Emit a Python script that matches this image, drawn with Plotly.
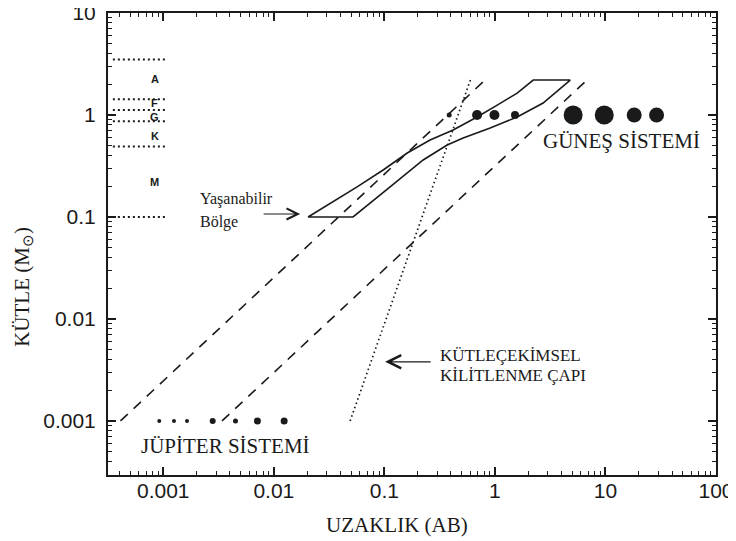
import numpy as np
import plotly.graph_objects as go

# ---------------- data ----------------
# Jupiter system (distance AU, mass in solar masses)
jup_dist = [0.00092, 0.00125, 0.00164, 0.0028, 0.0045, 0.0071, 0.0124]
jup_mass = [0.001, 0.001, 0.001, 0.001, 0.001, 0.001, 0.001]

# Solar system planets
sol_dist = [0.386, 0.69, 0.99, 1.52, 5.1, 9.75, 18.2, 29.0]
sol_mass = [1, 1, 1, 1, 1, 1, 1, 1]

# Habitable zone outline (closed polygon)
hz_dist = [0.0204, 0.0521, 0.1127, 0.2244, 0.370, 0.516, 0.906, 1.59, 2.73, 4.80,
           2.22, 1.59, 1.05, 0.69, 0.419, 0.259, 0.161, 0.0975, 0.0567, 0.0323, 0.0204]
hz_mass = [0.1, 0.1, 0.197, 0.362, 0.508, 0.596, 0.746, 0.955, 1.31, 2.20,
           2.20, 1.64, 1.25, 0.955, 0.713, 0.569, 0.424, 0.289, 0.197, 0.137, 0.1]

# Dashed reference lines (endpoints)
dash1_dist = [0.00041, 0.85]
dash1_mass = [0.001, 2.3]
dash2_dist = [0.0034, 6.8]
dash2_mass = [0.001, 2.2]

# Tidal locking radius (dotted)
tidal_dist = [0.049, 0.6]
tidal_mass = [0.001, 2.2]

# Spectral type boundaries
spec_bounds = [3.5, 1.43, 1.12, 0.87, 0.49, 0.1]
spec_x = [0.00035, 0.00105]
spec_letters = ["A", "F", "G", "K", "M"]
spec_letter_mass = [2.25, 1.31, 0.955, 0.62, 0.22]
spec_letter_dist = 0.00084

# Tick labels
x_tickvals = [0.001, 0.01, 0.1, 1, 10, 100]
x_ticktext = ["0.001", "0.01", "0.1", "1", "10", "100"]
y_tickvals = [0.001, 0.01, 0.1, 1, 10]
y_ticktext = ["0.001", "0.01", "0.1", "1", "10"]

# Annotation texts and anchors (AU, M_sun)
hz_label = ["Yaşanabilir", "Bölge"]
hz_label_pos = [(0.00206, 0.150), (0.00206, 0.0893)]
hz_arrow_tip = (0.0173, 0.107)
tidal_label = ["KÜTLEÇEKİMSEL", "KİLİTLENME ÇAPI"]
tidal_label_pos = [(0.306, 0.00434), (0.306, 0.00282)]
tidal_arrow_tip = (0.1016, 0.0038)
sun_label = "GÜNEŞ SİSTEMİ"
sun_label_pos = (2.62, 0.556)
jup_label = "JÜPİTER SİSTEMİ"
jup_label_pos = (0.000604, 0.000569)

# ---------------- styles ----------------
INK = "#1a1a1a"
SERIF = "Liberation Serif, Times New Roman, serif"
SANS = "Liberation Sans, Arial, sans-serif"
jup_sizes = [4, 4, 4, 6, 5, 7, 7]
sol_sizes = [5, 10, 10, 8, 19, 19, 15, 15]

fig = go.Figure()

# spectral boundaries
sx, sy = [], []
for b in spec_bounds:
    sx += [spec_x[0], spec_x[1], None]
    sy += [b, b, None]
fig.add_trace(go.Scatter(x=sx, y=sy, mode="lines",
                         line=dict(color=INK, width=2, dash="2px,3px"),
                         hoverinfo="skip", showlegend=False))

fig.add_trace(go.Scatter(x=dash1_dist, y=dash1_mass, mode="lines",
                         line=dict(color=INK, width=1.6, dash="10px,8px"), showlegend=False))
fig.add_trace(go.Scatter(x=dash2_dist, y=dash2_mass, mode="lines",
                         line=dict(color=INK, width=1.6, dash="10px,8px"), showlegend=False))
fig.add_trace(go.Scatter(x=tidal_dist, y=tidal_mass, mode="lines",
                         line=dict(color=INK, width=1.7, dash="1.5px,3px"), showlegend=False))
fig.add_trace(go.Scatter(x=hz_dist, y=hz_mass, mode="lines",
                         line=dict(color=INK, width=1.6), showlegend=False))
fig.add_trace(go.Scatter(x=jup_dist, y=jup_mass, mode="markers",
                         marker=dict(color=INK, size=jup_sizes, opacity=1, line=dict(width=0)),
                         showlegend=False))
fig.add_trace(go.Scatter(x=sol_dist, y=sol_mass, mode="markers",
                         marker=dict(color=INK, size=sol_sizes, opacity=1, line=dict(width=0)),
                         showlegend=False))

L = np.log10
anns = []
for t, m in zip(spec_letters, spec_letter_mass):
    anns.append(dict(x=L(spec_letter_dist), y=L(m), xref="x", yref="y", text="<b>%s</b>" % t,
                     showarrow=False, font=dict(family=SANS, size=11, color=INK)))
for t, (px, py) in zip(hz_label, hz_label_pos):
    anns.append(dict(x=L(px), y=L(py), xref="x", yref="y", text=t, xanchor="left",
                     showarrow=False, font=dict(family=SERIF, size=16, color=INK)))
anns.append(dict(x=L(hz_arrow_tip[0]), y=L(hz_arrow_tip[1]), xref="x", yref="y", text="",
                 showarrow=True, arrowhead=5, arrowsize=2, arrowwidth=1.1, arrowcolor=INK,
                 ax=-38, ay=0))
for t, (px, py) in zip(tidal_label, tidal_label_pos):
    anns.append(dict(x=L(px), y=L(py), xref="x", yref="y", text=t, xanchor="left",
                     showarrow=False, font=dict(family=SERIF, size=17, color=INK)))
anns.append(dict(x=L(tidal_arrow_tip[0]), y=L(tidal_arrow_tip[1]), xref="x", yref="y", text="",
                 showarrow=True, arrowhead=5, arrowsize=2, arrowwidth=1.3, arrowcolor=INK,
                 ax=47, ay=0))
anns.append(dict(x=L(sun_label_pos[0]), y=L(sun_label_pos[1]), xref="x", yref="y", text=sun_label,
                 xanchor="left", showarrow=False, font=dict(family=SERIF, size=21, color=INK)))
anns.append(dict(x=L(jup_label_pos[0]), y=L(jup_label_pos[1]), xref="x", yref="y", text=jup_label,
                 xanchor="left", showarrow=False, font=dict(family=SERIF, size=21, color=INK)))
# axis titles
anns.append(dict(x=-0.14, y=0.407, xref="paper", yref="paper", text="KÜTLE (M<sub>⊙</sub>)",
                 xanchor="center", yanchor="middle",
                 textangle=-90, showarrow=False, font=dict(family=SERIF, size=21, color=INK)))
anns.append(dict(x=0.475, y=-0.108, xref="paper", yref="paper", text="UZAKLIK (AB)",
                 xanchor="center", yanchor="middle",
                 showarrow=False, font=dict(family=SERIF, size=21, color=INK)))

axis_common = dict(type="log", showgrid=False, zeroline=False, showline=True, linewidth=2,
                   linecolor=INK, mirror="ticks", ticks="inside", ticklen=8, tickwidth=1.5,
                   tickcolor=INK, tickfont=dict(family=SANS, size=21, color=INK),
                   automargin=False, ticklabeloverflow="allow",
                   minor=dict(ticks="inside", ticklen=4, tickwidth=1, tickcolor=INK, dtick="D1",
                              showgrid=False))

fig.update_layout(
    width=736, height=541,
    margin=dict(l=100, r=28, t=5, b=74),
    paper_bgcolor="white", plot_bgcolor="white",
    xaxis=dict(range=[-3.5, 2], tickvals=x_tickvals, ticktext=x_ticktext,
               ticklabelstandoff=-4, **axis_common),
    yaxis=dict(range=[-3.53, 1], tickvals=y_tickvals, ticktext=y_ticktext,
               ticklabelstandoff=6, **axis_common),
    annotations=anns,
    showlegend=False,
)

fig.write_html("out.html")
